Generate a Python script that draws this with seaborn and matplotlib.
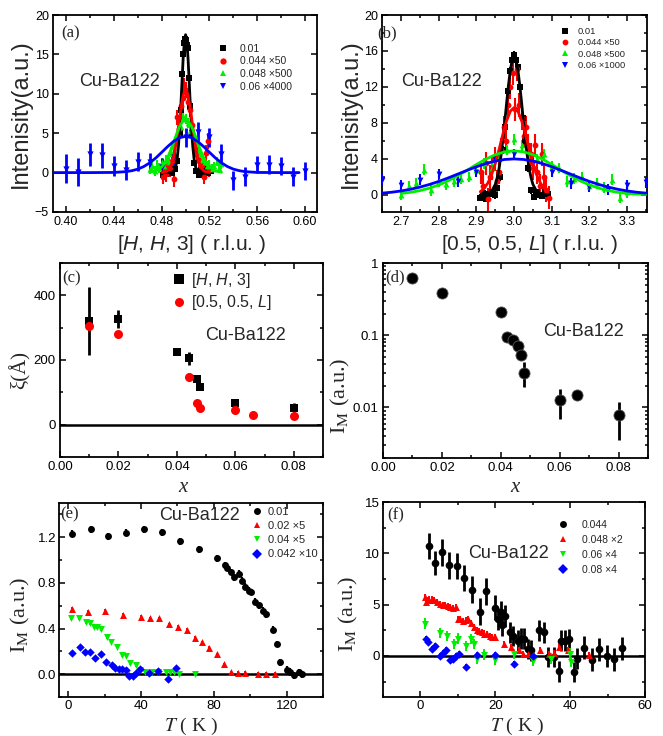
import numpy as np
import pandas as pd
import matplotlib
matplotlib.use("Agg")
import matplotlib.pyplot as plt
import seaborn as sns
from matplotlib.lines import Line2D
from matplotlib.ticker import MultipleLocator, FixedLocator, LogLocator, NullFormatter, FixedFormatter

# ---------------- DATA ----------------
# (a) [H,H,3] scans
a_black_x = [0.481,0.483,0.485,0.487,0.489,0.491,0.493,0.495,0.496,0.497,0.498,0.499,0.4995,0.500,0.501,0.502,0.503,0.504,0.505,0.507,0.509,0.511,0.513,0.515,0.517,0.519,0.521]
a_black_y = [-0.3,0.2,-0.1,0.3,0.0,0.5,1.5,5.0,8.0,12.5,15.0,16.5,17.0,16.8,16.2,15.8,12.0,8.5,5.0,1.2,0.2,-0.3,0.3,-0.2,0.4,0.0,0.2]
a_black_e = [0.4]*27
a_red_x = [0.481,0.4825,0.484,0.4855,0.487,0.4885,0.490,0.4915,0.493,0.4945,0.496,0.4975,0.499,0.5005,0.502,0.5035,0.505,0.5065,0.508,0.5095,0.511,0.5125,0.514,0.5155,0.517,0.5185,0.520]
a_red_y = [-0.5,0.3,-0.2,0.8,0.5,1.5,-0.8,2.0,7.0,5.5,8.5,9.5,11.0,10.5,9.0,8.0,6.0,4.5,3.0,2.2,1.5,0.8,1.0,-0.5,2.5,4.0,0.5]
a_red_e = [1.0]*27
a_green_x = [0.470,0.472,0.474,0.476,0.478,0.480,0.482,0.484,0.486,0.488,0.490,0.492,0.494,0.496,0.498,0.500,0.502,0.504,0.506,0.508,0.510,0.512,0.514,0.516,0.518,0.520,0.522,0.524,0.526,0.528,0.530]
a_green_y = [0.4,0.8,0.2,1.0,0.6,1.3,0.9,1.6,1.4,2.6,3.2,3.9,5.0,5.8,7.2,6.8,6.3,5.3,5.0,3.8,2.8,2.4,1.6,1.3,0.9,1.0,0.5,0.8,1.4,0.6,1.1]
a_green_e = [0.6]*31
a_blue_x = [0.40,0.41,0.42,0.43,0.44,0.45,0.46,0.47,0.48,0.49,0.50,0.51,0.52,0.53,0.54,0.55,0.56,0.57,0.58,0.59,0.60]
a_blue_y = [0.5,0.1,2.3,2.2,0.85,0.3,1.4,1.3,0.7,2.0,4.5,5.2,4.5,2.4,-1.0,-0.5,1.0,1.0,0.85,-0.5,0.2]
a_blue_e = [1.8,1.8,1.5,1.6,1.3,1.3,1.2,1.2,1.2,1.2,1.2,1.2,1.2,1.2,1.2,1.2,1.1,1.2,1.1,1.2,1.2]
# (a) fit curves
a_fit_black_x = [0.483,0.488,0.490,0.491,0.492,0.493,0.494,0.495,0.496,0.497,0.498,0.499,0.500,0.501,0.502,0.503,0.504,0.505,0.506,0.507,0.508,0.509,0.510,0.512,0.517]
a_fit_black_y = [0.0,0.02,0.18,0.42,0.93,1.84,3.34,5.55,8.4,11.6,14.6,16.7,17.5,16.7,14.6,11.6,8.4,5.55,3.34,1.84,0.93,0.42,0.18,0.02,0.0]
a_fit_red_x = [0.480,0.484,0.486,0.488,0.490,0.492,0.494,0.496,0.498,0.500,0.502,0.504,0.506,0.508,0.510,0.512,0.514,0.516,0.520]
a_fit_red_y = [0.01,0.15,0.41,0.97,2.0,3.64,5.8,8.06,9.83,10.5,9.83,8.06,5.8,3.64,2.0,0.97,0.41,0.15,0.01]
a_fit_green_x = [0.470,0.475,0.480,0.4825,0.485,0.4875,0.490,0.4925,0.495,0.4975,0.500,0.5025,0.505,0.5075,0.510,0.5125,0.515,0.5175,0.520,0.525,0.530]
a_fit_green_y = [0.05,0.21,0.73,1.23,1.93,2.83,3.85,4.91,5.83,6.47,6.7,6.47,5.83,4.91,3.85,2.83,1.93,1.23,0.73,0.21,0.05]
a_fit_blue_x = [0.390,0.420,0.440,0.450,0.455,0.460,0.465,0.470,0.475,0.480,0.485,0.490,0.495,0.500,0.505,0.510,0.515,0.520,0.525,0.530,0.535,0.540,0.545,0.550,0.560,0.580,0.595]
a_fit_blue_y = [0.0,0.0,0.02,0.12,0.24,0.44,0.77,1.24,1.85,2.57,3.31,3.97,4.43,4.6,4.43,3.97,3.31,2.57,1.85,1.24,0.77,0.44,0.24,0.12,0.02,0.0,0.0]
a_xticks = [0.40, 0.44, 0.48, 0.52, 0.56, 0.60]
a_xticklabels = ["0.40", "0.44", "0.48", "0.52", "0.56", "0.60"]
a_labels = ["0.01", "0.044 \u00d750", "0.048 \u00d7500", "0.06 \u00d74000"]

# (b) [0.5,0.5,L] scans
b_black_x = [2.910,2.917,2.925,2.933,2.940,2.948,2.955,2.962,2.970,2.977,2.985,2.990,2.995,3.000,3.005,3.010,3.015,3.023,3.030,3.038,3.045,3.052,3.060,3.068,3.075,3.083,3.090]
b_black_y = [-0.3,0.2,-0.4,0.1,0.3,0.0,0.8,2.0,5.0,7.5,11.5,13.8,15.0,15.6,15.0,14.2,12.0,8.5,6.0,3.0,0.5,-0.2,0.3,0.0,-0.1,0.4,0.1]
b_black_e = [0.4]*27
b_red_x = [2.912,2.918,2.925,2.930,2.936,2.942,2.948,2.954,2.960,2.966,2.972,2.978,2.984,2.990,2.996,3.002,3.008,3.014,3.020,3.026,3.032,3.038,3.044,3.050,3.056,3.062,3.068,3.074,3.080,3.086,3.092]
b_red_y = [2.5,1.0,3.5,-0.5,2.0,3.0,4.0,1.5,2.5,5.0,7.5,6.0,10.0,12.0,13.5,9.5,14.0,10.0,8.5,6.5,7.5,5.5,4.5,3.0,5.5,2.5,1.0,4.5,2.0,0.5,-0.3]
b_red_e = [1.3]*31
b_green_x = [2.70,2.72,2.74,2.76,2.78,2.80,2.82,2.84,2.86,2.88,2.90,2.92,2.94,2.96,2.98,3.00,3.02,3.04,3.06,3.08,3.10,3.12,3.14,3.16,3.18,3.20,3.22,3.24,3.26,3.28,3.30]
b_green_y = [0.0,1.0,1.3,2.8,0.5,1.5,1.2,1.5,1.8,2.0,2.8,3.5,3.0,4.5,5.0,6.2,5.5,4.5,4.0,4.5,3.2,3.0,1.5,1.8,2.0,1.0,1.3,0.8,1.7,-0.3,0.3]
b_green_e = [0.6]*31
b_blue_x = [2.65,2.70,2.75,2.80,2.85,2.90,2.95,3.00,3.05,3.10,3.15,3.20,3.25,3.30,3.35]
b_blue_y = [1.7,1.1,1.7,2.3,1.5,2.6,4.0,4.5,3.5,2.6,1.3,0.9,0.6,1.1,1.4]
b_blue_e = [0.6]*15
b_fit_black_x = [2.910,2.930,2.940,2.950,2.955,2.960,2.965,2.970,2.975,2.980,2.985,2.990,2.995,3.000,3.005,3.010,3.015,3.020,3.025,3.030,3.035,3.040,3.045,3.050,3.060,3.070,3.090]
b_fit_black_y = [0.0,0.1,0.37,1.17,1.9,2.95,4.35,6.08,8.07,10.2,12.2,13.9,15.0,15.4,15.0,13.9,12.2,10.2,8.07,6.08,4.35,2.95,1.9,1.17,0.37,0.1,0.0]
b_fit_red_x = [2.91,2.92,2.93,2.94,2.95,2.96,2.97,2.98,2.99,3.00,3.01,3.02,3.03,3.04,3.05,3.06,3.07,3.08,3.09]
b_fit_red_y = [0.35,0.71,1.31,2.22,3.5,5.05,6.72,8.24,9.31,9.7,9.31,8.24,6.72,5.05,3.5,2.22,1.31,0.71,0.35]
b_fit_green_x = [2.700,2.725,2.750,2.775,2.800,2.825,2.850,2.875,2.900,2.925,2.950,2.975,3.000,3.025,3.050,3.075,3.100,3.125,3.150,3.175,3.200,3.225,3.250,3.275,3.300,3.325,3.350]
b_fit_green_y = [0.17,0.29,0.48,0.75,1.11,1.57,2.12,2.74,3.38,3.98,4.47,4.79,4.9,4.79,4.47,3.98,3.38,2.74,2.12,1.57,1.11,0.75,0.48,0.29,0.17,0.1,0.05]
b_fit_blue_x = [2.650,2.675,2.700,2.725,2.750,2.775,2.800,2.825,2.850,2.875,2.900,2.925,2.950,2.975,3.000,3.025,3.050,3.075,3.100,3.125,3.150,3.175,3.200,3.225,3.250,3.275,3.300,3.325,3.350]
b_fit_blue_y = [0.2,0.30,0.44,0.63,0.87,1.16,1.5,1.89,2.31,2.73,3.13,3.49,3.76,3.94,4.0,3.94,3.76,3.49,3.13,2.73,2.31,1.89,1.5,1.16,0.87,0.63,0.44,0.30,0.2]
b_xticks = [2.7, 2.8, 2.9, 3.0, 3.1, 3.2, 3.3]
b_xticklabels = ["2.7", "2.8", "2.9", "3.0", "3.1", "3.2", "3.3"]
b_labels = ["0.01", "0.044 \u00d750", "0.048 \u00d7500", "0.06 \u00d71000"]

# (c) correlation length
c_hh3_x = [0.01,0.02,0.04,0.044,0.047,0.048,0.06,0.08]
c_hh3_y = [320,328,224,205,140,118,68,53]
c_hh3_e = [105,28,10,20,10,10,12,15]
c_l_x = [0.01,0.02,0.044,0.047,0.048,0.06,0.066,0.08]
c_l_y = [305,280,147,67,51,46,31,26]
c_l_e = [8,8,12,8,8,6,10,8]
c_labels = ["[$H$, $H$, 3]", "[0.5, 0.5, $L$]"]
cd_xticks = [0.00, 0.02, 0.04, 0.06, 0.08]
cd_xticklabels = ["0.00", "0.02", "0.04", "0.06", "0.08"]

# (d) magnetic intensity vs x
d_x = [0.01,0.02,0.04,0.042,0.044,0.046,0.047,0.048,0.06,0.066,0.08]
d_y = [0.62,0.384,0.209,0.094,0.085,0.070,0.053,0.0305,0.0128,0.0147,0.0078]
d_err_lo = [0.02,0.012,0.007,0.003,0.003,0.002,0.002,0.0115,0.0058,0.0006,0.0043]
d_err_hi = [0.02,0.012,0.007,0.003,0.003,0.002,0.002,0.0115,0.0052,0.0006,0.0042]
d_yticks = [0.01, 0.1, 1.0]
d_yticklabels = ["0.01", "0.1", "1"]

# (e) order parameter vs T
e_k_T = [2.2,12.5,21.7,31.7,41.7,51.7,61.6,71.8,81.7,85.9,87.5,89.5,91.3,93.7,95.5,97.3,99.1,100.6,102.8,104.6,107.3,108.8,112.4,114.5,116.5,120.2,121.8,124.3,126.9,128.3]
e_k_I = [1.23,1.27,1.21,1.24,1.27,1.245,1.165,1.093,1.017,0.953,0.933,0.895,0.85,0.88,0.82,0.765,0.73,0.72,0.634,0.605,0.555,0.526,0.39,0.265,0.105,0.038,0.02,-0.01,0.015,0.0]
e_r_T = [2.2,10.7,20.3,30.3,40.0,45.1,49.8,55.3,60.2,65.1,69.6,73.8,77.4,81.9,85.7,89.5,93.3,97.3,104.2,108.8,113.6]
e_r_I = [0.575,0.547,0.552,0.517,0.503,0.488,0.488,0.436,0.416,0.387,0.32,0.279,0.233,0.174,0.087,0.017,0.009,0.009,0.0,0.0,0.0]
e_g_T = [1.6,6.0,9.8,11.8,14.0,16.1,18.1,21.6,23.6,26.6,29.7,31.7,33.9,37.2,39.3,42.0,45.9,49.3,53.8,56.0,58.4,61.1,69.8]
e_g_I = [0.488,0.488,0.453,0.445,0.416,0.41,0.392,0.323,0.285,0.241,0.169,0.163,0.096,0.081,0.038,0.023,0.015,0.023,0.015,0.015,0.015,0.0,0.0]
e_b_T = [2.2,6.3,9.4,12.1,14.9,18.1,20.8,23.9,25.7,28.1,29.7,31.7,33.5,35.7,37.5,39.7,44.2,49.3,54.7,59.3]
e_b_I = [0.189,0.241,0.198,0.192,0.14,0.177,0.11,0.081,0.052,0.044,0.047,0.038,-0.02,-0.02,0.009,0.047,0.009,0.029,-0.038,0.052]
e_yticks = [0.0, 0.4, 0.8, 1.2]
e_yticklabels = ["0.0", "0.4", "0.8", "1.2"]
e_labels = ["0.01", "0.02 \u00d75", "0.04 \u00d75", "0.042 \u00d710"]

# (f) order parameter vs T
f_k_T = [2.4,3.9,5.7,7.7,9.8,11.7,13.8,15.8,17.6,19.8,20.6,21.4,21.7,22.7,23.9,24.7,26.0,26.9,27.8,28.7,29.5,31.6,32.9,34.2,35.6,36.9,37.6,38.5,39.7,40.9,41.8,43.8,45.8,47.8,49.8,51.8,53.8]
f_k_I = [10.7,9.06,10.1,8.83,8.77,7.6,6.46,4.3,6.3,4.7,3.6,4.3,3.0,3.9,2.3,1.95,1.5,1.7,1.7,0.7,0.55,2.5,2.3,-0.1,-0.1,-1.5,1.5,1.5,1.65,-1.55,-0.26,0.8,-0.36,0.65,0.0,-0.33,0.75]
f_k_e = [1.3,1.2,1.3,1.3,1.3,1.3,1.3,1.3,1.3,1.2,1.1,1.1,1.1,1.1,1.0,1.0,1.0,1.0,1.0,1.0,1.0,1.0,1.0,1.0,1.0,1.0,1.0,1.0,1.0,1.0,1.0,1.1,1.1,1.1,1.1,1.1,1.1]
f_r_T = [1.2,1.5,2.0,2.4,3.0,3.7,4.5,5.2,5.9,6.6,7.3,8.0,8.7,9.4,10.0,10.7,11.4,12.1,12.8,13.5,14.2,15.0,15.7,16.4,17.1,17.8,18.5,19.2,19.9,22.2,24.2,26.3,27.3,28.7,30.0,32.0,34.4,35.6,37.1,39.3,45.1]
f_r_I = [5.75,5.26,5.42,5.5,5.58,5.42,5.26,5.1,5.0,4.94,4.87,4.77,4.68,4.77,3.64,3.64,3.38,3.47,3.64,3.2,2.82,2.56,2.44,2.34,2.18,2.1,1.92,1.85,1.85,1.14,0.88,0.55,0.23,0.23,0.13,0.62,0.23,0.32,0.88,0.62,0.13]
f_g_T = [1.1,5.1,7.1,9.1,10.0,12.2,13.4,14.2,15.0,17.1,19.9,25.1,30.0,34.9,40.0,40.2]
f_g_I = [3.15,2.27,1.95,1.2,1.69,0.94,1.62,1.2,-0.26,0.13,-0.36,0.16,-0.49,-0.26,0.23,-0.58]
f_b_T = [1.5,2.0,3.1,4.0,5.1,6.1,6.9,8.0,8.8,9.4,10.4,12.2,15.0,20.0,25.1,30.0]
f_b_I = [1.69,1.36,0.71,0.94,-0.03,0.29,0.62,-0.42,-0.26,0.0,0.23,-1.07,0.13,0.13,-0.81,0.0]
f_labels = ["0.044", "0.048 \u00d72", "0.06 \u00d74", "0.08 \u00d74"]

# ---------------- STYLE ----------------
sns.set_style("ticks")
plt.rcParams.update({
    "font.family": ["Liberation Sans", "DejaVu Sans"],
    "mathtext.fontset": "custom",
    "mathtext.rm": "Liberation Sans",
    "mathtext.it": "Liberation Sans:italic",
    "mathtext.bf": "Liberation Sans:bold",
    "axes.linewidth": 1.3,
    "axes.edgecolor": "black",
    "xtick.color": "black",
    "ytick.color": "black",
})

BLACK, RED, GREEN, BLUE = "#000000", "#ff0000", "#00ee00", "#0000ff"
W, H = 663, 736
fig = plt.figure(figsize=(W / 100, H / 100), dpi=100)


def px_axes(l, t, r, b):
    return fig.add_axes([l / W, 1 - b / H, (r - l) / W, (b - t) / H])


def ftext(x, y, s, va="center", **kw):
    fig.text(x / W, 1 - y / H, s, ha="center", va=va, **kw)


def style_axes(ax, fs, pad=3.0):
    ax.tick_params(which="both", direction="in", top=True, right=True, labelsize=fs, width=1.1, pad=pad)
    ax.tick_params(which="major", length=4)
    ax.tick_params(which="minor", length=2.2)
    for s in ax.spines.values():
        s.set_linewidth(1.3)
    ax.set_xlabel("")
    ax.set_ylabel("")


def series(ax, x, y, err, color, marker, ms, elw=1.5, z=3):
    ax.errorbar(x, y, yerr=err, fmt="none", ecolor=color, elinewidth=elw, capsize=0, zorder=z)
    sns.scatterplot(x=x, y=y, ax=ax, color=color, marker=marker, s=ms ** 2,
                    edgecolor=color, linewidth=0, zorder=z + 0.1, legend=False)


def fit(ax, x, y, color, lw=2.0):
    sns.lineplot(x=x, y=y, ax=ax, color=color, lw=lw, estimator=None, legend=False, zorder=5)


def legend(ax, labels, colors, markers, ms, fs, anchor, hl, pad, sp):
    handles = [Line2D([], [], ls="none", marker=m, color=c, markeredgewidth=0, markersize=ms)
               for c, m in zip(colors, markers)]
    ax.legend(handles, labels, loc="upper left", bbox_to_anchor=anchor, frameon=False,
              fontsize=fs, borderpad=0, borderaxespad=0, handlelength=hl,
              handletextpad=pad, labelspacing=sp, numpoints=1)


cols = [BLACK, RED, GREEN, BLUE]

# ---------------- (a) ----------------
ax = px_axes(53, 15, 317, 212)
series(ax, a_black_x, a_black_y, a_black_e, BLACK, "s", 4.0)
series(ax, a_red_x, a_red_y, a_red_e, RED, "o", 4.2)
series(ax, a_green_x, a_green_y, a_green_e, GREEN, "^", 4.2)
series(ax, a_blue_x, a_blue_y, a_blue_e, BLUE, "v", 4.5, elw=2.0)
fit(ax, a_fit_black_x, a_fit_black_y, BLACK)
fit(ax, a_fit_red_x, a_fit_red_y, RED)
fit(ax, a_fit_green_x, a_fit_green_y, GREEN)
fit(ax, a_fit_blue_x, a_fit_blue_y, BLUE)
ax.set_xlim(0.389, 0.61)
ax.set_ylim(-5, 20)
ax.set_xticks(a_xticks, a_xticklabels)
ax.xaxis.set_minor_locator(MultipleLocator(0.02))
ax.yaxis.set_major_locator(MultipleLocator(5))
style_axes(ax, 9)
legend(ax, a_labels, cols, ["s", "o", "^", "v"], 4.5, 7.5, (0.625, 0.855), 1.0, 1.1, 0.26)

# ---------------- (b) ----------------
ax = px_axes(382, 15, 647, 212)
series(ax, b_black_x, b_black_y, b_black_e, BLACK, "s", 4.0)
series(ax, b_red_x, b_red_y, b_red_e, RED, "o", 4.2)
series(ax, b_green_x, b_green_y, b_green_e, GREEN, "^", 4.2)
series(ax, b_blue_x, b_blue_y, b_blue_e, BLUE, "v", 4.2)
fit(ax, b_fit_black_x, b_fit_black_y, BLACK)
fit(ax, b_fit_red_x, b_fit_red_y, RED)
fit(ax, b_fit_green_x, b_fit_green_y, GREEN)
fit(ax, b_fit_blue_x, b_fit_blue_y, BLUE)
ax.set_xlim(2.649, 3.353)
ax.set_ylim(-1.9, 20)
ax.set_xticks(b_xticks, b_xticklabels)
ax.xaxis.set_minor_locator(MultipleLocator(0.05))
ax.yaxis.set_major_locator(MultipleLocator(4))
ax.yaxis.set_minor_locator(MultipleLocator(2))
style_axes(ax, 9)
legend(ax, b_labels, cols, ["s", "o", "^", "v"], 4.2, 6.7, (0.674, 0.94), 1.0, 0.88, 0.26)

# ---------------- (c) ----------------
ax = px_axes(60, 263, 323, 457)
ax.axhline(0, color="black", lw=1.8, zorder=1)
series(ax, c_hh3_x, c_hh3_y, c_hh3_e, BLACK, "s", 6.0, elw=2.0)
series(ax, c_l_x, c_l_y, c_l_e, RED, "o", 6.5, elw=2.0, z=4)
ax.set_xlim(0, 0.09)
ax.set_ylim(-100, 500)
ax.set_xticks(cd_xticks, cd_xticklabels)
ax.xaxis.set_minor_locator(MultipleLocator(0.01))
ax.set_yticks([0, 200, 400], ["0", "200", "400"])
ax.yaxis.set_minor_locator(MultipleLocator(100))
style_axes(ax, 9.5)
legend(ax, c_labels, [BLACK, RED], ["s", "o"], 6.5, 11.5, (0.43, 0.96), 0.8, 0.35, 0.22)

# ---------------- (d) ----------------
ax = px_axes(383, 263, 648, 458)
ax.set_yscale("log")
ax.errorbar(d_x, d_y, yerr=[d_err_lo, d_err_hi], fmt="none", ecolor="black", elinewidth=2.0, capsize=0, zorder=3)
sns.scatterplot(x=d_x, y=d_y, ax=ax, color="black", marker="o", s=8.0 ** 2,
                edgecolor="#555555", linewidth=0.6, zorder=4, legend=False)
ax.set_xlim(0, 0.09)
ax.set_ylim(0.002, 1.0)
ax.set_xticks(cd_xticks, cd_xticklabels)
ax.xaxis.set_minor_locator(MultipleLocator(0.01))
ax.set_yticks(d_yticks, d_yticklabels)
ax.yaxis.set_minor_locator(LogLocator(base=10, subs=np.arange(2, 10)))
ax.yaxis.set_minor_formatter(NullFormatter())
style_axes(ax, 9.5)

# ---------------- (e) ----------------
ax = px_axes(59, 503, 323, 697)
ax.axhline(0, color="black", lw=1.8, zorder=1)
series(ax, e_k_T, e_k_I, [0.03] * len(e_k_T), BLACK, "o", 5.0, elw=1.6)
series(ax, e_r_T, e_r_I, [0.015] * len(e_r_T), RED, "^", 5.0, elw=1.4)
series(ax, e_g_T, e_g_I, [0.015] * len(e_g_T), GREEN, "v", 5.0, elw=1.4)
series(ax, e_b_T, e_b_I, [0.015] * len(e_b_T), BLUE, "D", 4.3, elw=1.4)
ax.set_xlim(-5, 140)
ax.set_ylim(-0.2, 1.5)
ax.xaxis.set_major_locator(MultipleLocator(40))
ax.xaxis.set_minor_locator(MultipleLocator(20))
ax.set_yticks(e_yticks, e_yticklabels)
ax.yaxis.set_minor_locator(MultipleLocator(0.2))
style_axes(ax, 9.5, pad=2.0)
legend(ax, e_labels, cols, ["o", "^", "v", "D"], 5.0, 8.0, (0.729, 0.979), 1.0, 0.48, 0.37)

# ---------------- (f) ----------------
ax = px_axes(383, 502, 645, 697)
ax.axhline(0, color="black", lw=1.8, zorder=1)
series(ax, f_k_T, f_k_I, f_k_e, BLACK, "o", 5.5, elw=2.0)
series(ax, f_r_T, f_r_I, [0.3] * len(f_r_T), RED, "^", 5.0, elw=1.4)
series(ax, f_g_T, f_g_I, [0.5] * len(f_g_T), GREEN, "v", 5.0, elw=1.4)
series(ax, f_b_T, f_b_I, [0.3] * len(f_b_T), BLUE, "D", 4.3, elw=1.4)
ax.set_xlim(-10, 60)
ax.set_ylim(-4, 15)
ax.xaxis.set_major_locator(MultipleLocator(20))
ax.xaxis.set_minor_locator(MultipleLocator(10))
ax.yaxis.set_major_locator(MultipleLocator(5))
ax.yaxis.set_minor_locator(MultipleLocator(2.5))
style_axes(ax, 9.5, pad=2.0)
legend(ax, f_labels, cols, ["o", "^", "v", "D"], 5.0, 7.5, (0.667, 0.908), 1.0, 1.3, 0.47)

# ---------------- TEXTS ----------------
serif = ["Liberation Serif", "DejaVu Serif"]
for (x, y, s) in [(71, 33, "(a)"), (387, 33, "(b)"), (72, 278, "(c)"), (395, 277, "(d)"), (70, 514, "(e)"), (396, 515, "(f)")]:
    ftext(x, y, s, family=serif, fontsize=12)
for (x, y) in [(119, 82), (442, 82), (246, 335), (584, 332), (200, 516), (508, 553)]:
    ftext(x, y, "Cu-Ba122", fontsize=13)

ftext(21, 114, "Intenisity(a.u.)", fontsize=17, rotation=90)
ftext(351, 114, "Intenisity(a.u.)", fontsize=17, rotation=90)
ftext(192, 245, "[$H$, $H$, 3] ( r.l.u. )", fontsize=15)
ftext(530, 245, "[0.5, 0.5, $L$] ( r.l.u. )", fontsize=15)
ftext(20, 370, "\u03be(\u00c5)", family=serif, fontsize=15, rotation=90)
ftext(340, 396, "I$_{\\mathrm{M}}$ (a.u.)", family=serif, math_fontfamily="stix", fontsize=16, rotation=90)
ftext(20, 615, "I$_{\\mathrm{M}}$ (a.u.)", family=serif, math_fontfamily="stix", fontsize=16, rotation=90)
ftext(348, 614, "I$_{\\mathrm{M}}$ (a.u.)", family=serif, math_fontfamily="stix", fontsize=16, rotation=90)
ftext(183, 487, "x", family=serif, fontstyle="italic", fontsize=15)
ftext(515, 487, "x", family=serif, fontstyle="italic", fontsize=15)
ftext(191, 731, "$T$ ( K )", va="baseline", family=serif, math_fontfamily="stix", fontsize=14)
ftext(517, 731, "$T$ ( K )", va="baseline", family=serif, math_fontfamily="stix", fontsize=14)

fig.savefig("out.png", dpi=100)
